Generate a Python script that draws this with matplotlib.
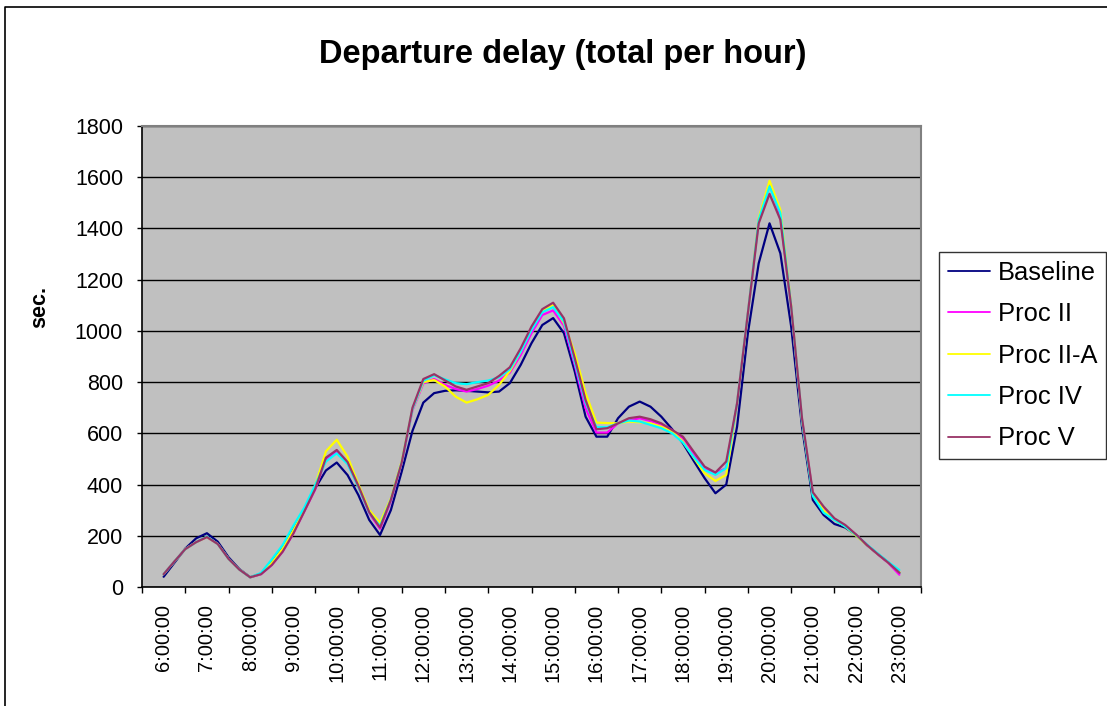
import numpy as np
import matplotlib
matplotlib.use("Agg")
import matplotlib.pyplot as plt
from matplotlib.lines import Line2D

plt.rcParams['font.family'] = ['Liberation Sans', 'DejaVu Sans']

## Data: quarter-hour samples from 6:00 to 23:00
Start_Hour = 6.0
Step_Hours = 0.25

Baseline = [40, 95, 150, 190, 210, 177, 116, 70, 38, 52, 98, 155, 225, 300, 385, 455, 486, 437, 359, 262,
            203, 300, 450, 610, 720, 757, 766, 768, 766, 763, 760, 763, 796, 867, 952, 1023, 1050, 991, 841, 665,
            587, 587, 659, 704, 724, 704, 665, 616, 561, 492, 425, 366, 400, 626, 991, 1264, 1420, 1303, 1017, 626,
            340, 281, 246, 232, 203, 164, 129, 95, 55]
Proc_II = [50, 100, 148, 175, 195, 168, 110, 68, 38, 50, 86, 138, 210, 295, 380, 500, 530, 483, 392, 288,
           227, 335, 483, 690, 795, 812, 789, 773, 763, 773, 786, 806, 837, 906, 991, 1062, 1080, 1020, 867, 698,
           603, 603, 639, 650, 659, 648, 633, 613, 580, 515, 460, 445, 464, 717, 1069, 1434, 1577, 1450, 1095, 652,
           365, 305, 265, 240, 203, 164, 128, 93, 48]
Proc_II_A = [50, 100, 148, 175, 195, 168, 110, 68, 38, 52, 95, 150, 222, 300, 395, 530, 575, 509, 401, 300,
             251, 345, 490, 695, 800, 808, 783, 743, 720, 733, 750, 789, 843, 919, 1007, 1079, 1100, 1030, 913, 757,
             642, 640, 639, 646, 643, 639, 626, 607, 568, 505, 444, 414, 438, 717, 1069, 1440, 1586, 1473, 1100, 652,
             360, 300, 262, 236, 200, 164, 129, 95, 58]
Proc_IV = [50, 100, 148, 175, 197, 168, 110, 68, 38, 55, 108, 164, 240, 310, 398, 490, 522, 480, 390, 290,
           238, 340, 485, 695, 805, 827, 811, 796, 792, 800, 806, 819, 850, 919, 1004, 1073, 1093, 1036, 879, 719,
           624, 624, 639, 650, 646, 633, 620, 600, 564, 507, 457, 438, 464, 717, 1069, 1434, 1564, 1460, 1095, 652,
           355, 290, 262, 236, 203, 166, 131, 97, 66]
Proc_V = [50, 100, 148, 175, 195, 168, 110, 68, 38, 50, 86, 138, 210, 295, 382, 505, 535, 488, 395, 292,
          232, 340, 485, 700, 812, 831, 807, 783, 770, 783, 796, 824, 858, 932, 1017, 1085, 1110, 1049, 893, 730,
          616, 620, 639, 659, 665, 655, 639, 613, 587, 528, 470, 447, 490, 717, 1069, 1420, 1535, 1434, 1095, 660,
          370, 314, 268, 242, 205, 164, 128, 94, 56]

Series_Names = ["Baseline", "Proc II", "Proc II-A", "Proc IV", "Proc V"]
Series_Values = [Baseline, Proc_II, Proc_II_A, Proc_IV, Proc_V]
Series_Colours = ["#000080", "#FF00FF", "#FFFF00", "#00FFFF", "#993366"]

Hour_Labels = [f"{h}:00:00" for h in range(6, 24)]

Time_Hours = Start_Hour + Step_Hours * np.arange(len(Baseline))

##################
## Graph making ##
##################

fig = plt.figure(figsize=(11.07, 7.06), dpi=100)
fig.patch.set_facecolor("white")
ax = fig.add_axes([142/1107, 1-587/706, (921-142)/1107, (587-126)/706])
ax.set_facecolor("#C0C0C0")

for Name, Values, Colour in zip(Series_Names, Series_Values, Series_Colours):
    ax.plot(Time_Hours, Values, color=Colour, linewidth=1.6, label=Name,
            solid_joinstyle="round", solid_capstyle="round")

## Axes limits and gridlines
ax.set_xlim(5.5, 23.5)
ax.set_ylim(0, 1800)
ax.set_yticks(np.arange(0, 1801, 200))
ax.yaxis.grid(True, color="black", linewidth=1.0)
ax.set_axisbelow(True)

## Category style x axis: tick marks between hours, labels on the hours
ax.set_xticks(np.arange(5.5, 23.6, 1.0))
ax.set_xticklabels([])
ax.set_xticks(np.arange(6, 23.1, 1.0), minor=True)
ax.set_xticklabels(Hour_Labels, minor=True, rotation=90, fontsize=14.5)
ax.tick_params(axis="x", which="major", direction="out", length=4.5, width=1)
ax.tick_params(axis="x", which="minor", length=0, pad=12)
ax.tick_params(axis="y", direction="out", length=3.6, width=1, pad=10, labelsize=15.5)

for side in ["top", "right"]:
    ax.spines[side].set_color("#808080")
    ax.spines[side].set_linewidth(1.5)
for side in ["left", "bottom"]:
    ax.spines[side].set_color("black")
    ax.spines[side].set_linewidth(1.2)

## Title and y label
fig.text(563/1107, 1-54/706, "Departure delay (total per hour)", ha="center", va="center",
         fontsize=23.5, fontweight="bold")
fig.text(40/1107, 1-307/706, "sec.", ha="center", va="center", rotation=90,
         fontsize=15.5, fontweight="bold")

## Legend on the right
legend = fig.legend(loc="upper left", bbox_to_anchor=(939/1107, 1-252/706), fontsize=18.4,
                    frameon=True, fancybox=False, handlelength=1.65, handletextpad=0.3,
                    labelspacing=0.68, borderpad=0.35, borderaxespad=0)
frame = legend.get_frame()
frame.set_edgecolor("black")
frame.set_facecolor("white")
frame.set_linewidth(1.0)
for line in legend.get_lines():
    line.set_linewidth(1.3)

## Chart border
fig.add_artist(Line2D([5/1107, 5/1107, 1.0], [0.0, 1-7/706, 1-7/706], transform=fig.transFigure,
                      color="black", linewidth=1.2))

plt.savefig("out.png", dpi=100)
